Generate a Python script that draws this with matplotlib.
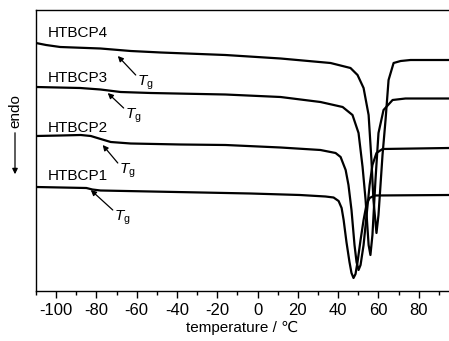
import numpy as np
import matplotlib
matplotlib.use('Agg')
import matplotlib.pyplot as plt

plt.rcParams['font.family'] = ['Liberation Sans', 'DejaVu Sans']
plt.rcParams['axes.unicode_minus'] = False
plt.rcParams['mathtext.fontset'] = 'custom'
plt.rcParams['mathtext.rm'] = 'Liberation Sans'
plt.rcParams['mathtext.it'] = 'Liberation Sans:italic'

# DSC curves, heat flow in arbitrary units (shifted)
t1 = [-110, -85, -82, -78, -53, -28, -3.5, 21, 33.7, 37.7, 40.2, 41.7, 42.7, 44.1, 45.6,
      46.6, 47.6, 48.6, 49.6, 51.1, 52.6, 54.1, 55.6, 58, 95]
hf1 = [11.3, 11.2, 11.05, 10.95, 10.85, 10.75, 10.65, 10.5, 10.35, 10.25, 9.9, 9.2, 8.0, 5.8, 3.8,
       2.7, 2.2, 2.6, 3.8, 6.0, 8.0, 9.6, 10.2, 10.45, 10.5]

t2 = [-110, -97.7, -87.8, -82.8, -77.9, -72.9, -63, -38.2, -15.9, 11.4, 31.2, 38.7, 41.2, 43.7,
      45.1, 46.6, 48.1, 49.1, 50.1, 51.1, 52.6, 54.1, 55.6, 57, 59, 62, 95]
hf2 = [16.4, 16.45, 16.5, 16.4, 16.1, 15.8, 15.65, 15.55, 15.5, 15.25, 15.0, 14.7, 14.3, 13.0,
       11.5, 9.0, 5.5, 3.8, 3.0, 3.5, 5.5, 8.5, 11.5, 13.5, 14.7, 15.1, 15.2]

t3 = [-110, -88, -78, -68, -53, -16, 11.4, 31.2, 42.2, 47.1, 50.1, 52.1, 53.6, 55.1, 56, 57,
      58.5, 60, 62.5, 67, 73.4, 95]
hf3 = [21.3, 21.2, 21.05, 20.8, 20.7, 20.55, 20.3, 19.8, 19.3, 18.5, 16.7, 13.3, 10.0, 5.5, 4.5, 6.5,
       12.0, 16.7, 19.0, 20.0, 20.15, 20.15]

t4 = [-110, -105, -98, -78, -63, -48, -16, 11.4, 36.2, 46.1, 49.6, 52.6, 55.1, 56.5, 57.5, 59,
      60, 61, 62, 63.5, 65, 67.5, 71, 75.9, 95]
hf4 = [25.7, 25.5, 25.3, 25.15, 24.9, 24.75, 24.5, 24.15, 23.7, 23.2, 22.5, 21.2, 18.5, 14.0, 10.0, 6.7,
       8.5, 11.5, 14.5, 18.0, 22.0, 23.7, 23.9, 24.0, 24.0]

names = ['HTBCP1', 'HTBCP2', 'HTBCP3', 'HTBCP4']
label_y = [12.0, 16.8, 21.8, 26.3]
# Tg arrows: head (T, hf) and tail (T, hf)
tg_head = [(-82.8, 11.0), (-76.9, 15.5), (-74.4, 20.7), (-69.4, 24.4)]
tg_tail = [(-71.9, 9.0), (-69.4, 13.7), (-66.5, 19.2), (-60.5, 22.5)]

fig = plt.figure(figsize=(4.49, 3.41), dpi=100)
ax = fig.add_axes([36/449, 1-291/341, 1-36/449, (291-10)/341])

for t, hf in [(t1, hf1), (t2, hf2), (t3, hf3), (t4, hf4)]:
    ax.plot(t, hf, color='k', lw=1.6, solid_joinstyle='round')

for name, ly in zip(names, label_y):
    ax.text(-104.2, ly, name, fontsize=11, ha='left', va='baseline')

for (hx, hy), (tx, ty) in zip(tg_head, tg_tail):
    ax.annotate('', xy=(hx, hy), xytext=(tx, ty),
                arrowprops=dict(arrowstyle='-|>', lw=0.9, color='k',
                                mutation_scale=8, shrinkA=0, shrinkB=0))
    ax.text(tx + 0.5, ty + 0.1, r'$T_\mathrm{g}$', fontsize=11, ha='left', va='top')

ax.set_xlim(-110, 95)
ax.set_ylim(0.9, 29.0)
ax.set_xticks(np.arange(-100, 81, 20))
ax.set_xticks(np.arange(-110, 95, 10), minor=True)
ax.set_yticks([])
ax.tick_params(axis='x', which='major', length=5, width=1, labelsize=12, direction='out')
ax.tick_params(axis='x', which='minor', length=3, width=1, direction='out')
ax.spines['right'].set_visible(False)
for s in ['left', 'top', 'bottom']:
    ax.spines[s].set_linewidth(1.0)
ax.set_xlabel('temperature / ℃', fontsize=11, labelpad=2)

fig.text(15/449, 1-111/341, 'endo', rotation=90, fontsize=11, ha='center', va='center')
fig.add_artist(matplotlib.patches.FancyArrowPatch(
    (15/449, 1-130/341), (15/449, 1-177/341), transform=fig.transFigure,
    arrowstyle='-|>', mutation_scale=8, lw=0.9, color='k'))

fig.savefig('out.png', dpi=100)
